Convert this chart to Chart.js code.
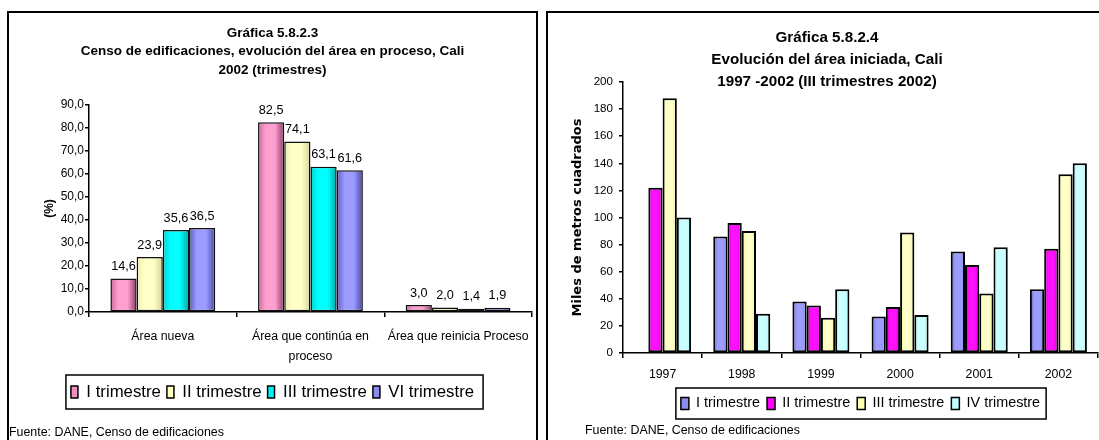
<!DOCTYPE html>
<html lang="es">
<head>
<meta charset="utf-8">
<title>Gráficas 5.8.2.3 y 5.8.2.4 - Cali</title>
<script src="https://cdn.jsdelivr.net/npm/chart.js@4.4.1/dist/chart.umd.min.js"></script>
<style>
  html, body { margin: 0; padding: 0; background: #fff; width: 1099px; height: 440px; overflow: hidden; }
  .panel { position: absolute; box-sizing: border-box; border: 2px solid #000; border-bottom: none; }
  #panelA { left: 7px; top: 11px; width: 531px; height: 440px; }
  #panelB { left: 546px; top: 11px; width: 600px; height: 440px; border-right: none; }
  canvas { position: absolute; }
  #chartA { left: 9px; top: 13px; }
  #chartB { left: 556px; top: 13px; }
  .fuente { position: absolute; font: 12.4px "Liberation Sans", Arial, sans-serif; line-height: 15px; color: #000; white-space: nowrap; }
  #fuenteA { left: 9px; top: 425px; }
  #fuenteB { left: 585px; top: 423px; }
</style>
</head>
<body>
<div class="panel" id="panelA"></div>
<div class="panel" id="panelB"></div>
<canvas id="chartA" width="530" height="427"></canvas>
<canvas id="chartB" width="543" height="427"></canvas>
<div class="fuente" id="fuenteA">Fuente: DANE, Censo de edificaciones</div>
<div class="fuente" id="fuenteB">Fuente: DANE, Censo de edificaciones</div>
<script>
// Gráfica 5.8.2.3 - área en proceso (%)
const areaCategories = ["Área nueva", ["Área que continúa en", "proceso"], "Área que reinicia Proceso"];
const areaSeries = ["I trimestre", "II trimestre", "III trimestre", "VI trimestre"];
const areaT1 = [14.6, 82.5, 3.0];
const areaT2 = [23.9, 74.1, 2.0];
const areaT3 = [35.6, 63.1, 1.4];
const areaT4 = [36.5, 61.6, 1.9];
const areaTicks = [0, 10, 20, 30, 40, 50, 60, 70, 80, 90];

// Gráfica 5.8.2.4 - área iniciada (miles de m2)
const years = ["1997", "1998", "1999", "2000", "2001", "2002"];
const iniSeries = ["I trimestre", "II trimestre", "III trimestre", "IV trimestre"];
const iniT1 = [null, 86, 38, 27, 75, 47];
const iniT2 = [122, 96, 35, 34, 65, 77];
const iniT3 = [188, 90, 26, 89, 44, 132];
const iniT4 = [100, 29, 47, 28, 78, 140];
const iniTicks = [0, 20, 40, 60, 80, 100, 120, 140, 160, 180, 200];

const FONT = '"Liberation Sans", Arial, sans-serif';
Chart.defaults.font.family = FONT;
Chart.defaults.color = "#000";
Chart.defaults.animation = false;

const fmt = (v) => Number(v).toFixed(1).replace(".", ",");

// 3D-ish shading across each bar: [left edge, middle, right edge]
const shade = (cols) => (ctx) => {
  const el = ctx.element;
  if (!el || !isFinite(el.x) || !el.width) return cols[1];
  const g = ctx.chart.ctx.createLinearGradient(el.x - el.width / 2, 0, el.x + el.width / 2, 0);
  g.addColorStop(0, cols[0]);
  g.addColorStop(0.3, cols[1]);
  g.addColorStop(0.65, cols[1]);
  g.addColorStop(1, cols[2]);
  return g;
};

const legendLabels = (chart) => {
  const items = Chart.defaults.plugins.legend.labels.generateLabels(chart);
  items.forEach((it, i) => {
    it.fillStyle = chart.data.datasets[i].legendColor;
    it.strokeStyle = "#000";
    it.lineWidth = 1.5;
  });
  return items;
};

// framed legend, as in the spreadsheet original
const legendFrame = {
  id: "legendFrame",
  afterDraw(chart, args, opts) {
    const hb = chart.legend && chart.legend.legendHitBoxes;
    if (!hb || !hb.length) return;
    const left = Math.min(...hb.map((h) => h.left)) - opts.padLeft;
    const right = Math.max(...hb.map((h) => h.left + h.width)) + opts.padRight;
    const cy = hb[0].top + hb[0].height / 2;
    const c = chart.ctx;
    c.save();
    c.strokeStyle = "#000";
    c.lineWidth = 1.5;
    c.strokeRect(left, cy - opts.height / 2, right - left, opts.height);
    c.restore();
  },
};

const valueLabels = {
  id: "valueLabels",
  afterDatasetsDraw(chart) {
    const c = chart.ctx;
    c.save();
    c.font = "12.7px " + FONT;
    c.fillStyle = "#000";
    c.textAlign = "center";
    c.textBaseline = "middle";
    chart.data.datasets.forEach((ds, i) => {
      chart.getDatasetMeta(i).data.forEach((bar, j) => {
        if (ds.data[j] === null) return;
        c.fillText(fmt(ds.data[j]), bar.x, bar.y - 12);
      });
    });
    c.restore();
  },
};

const axisLine = { color: "#000", width: 1.5 };
const legA = 16.8, padA = 6;
const legB = 14.4, padB = 7;

const chartA = new Chart(document.getElementById("chartA"), {
  type: "bar",
  data: {
    labels: areaCategories,
    datasets: [
      { label: areaSeries[0], data: areaT1, backgroundColor: shade(["#c86c9c", "#ff9fd0", "#8c3a66"]), legendColor: "#f090c0" },
      { label: areaSeries[1], data: areaT2, backgroundColor: shade(["#ececb0", "#ffffc8", "#d4d49a"]), legendColor: "#ffffc0" },
      { label: areaSeries[2], data: areaT3, backgroundColor: shade(["#00d4d4", "#00ffff", "#00a6a6"]), legendColor: "#00f0f0" },
      { label: areaSeries[3], data: areaT4, backgroundColor: shade(["#5c5cc0", "#9c9cff", "#4848a0"]), legendColor: "#8c8cf0" },
    ],
  },
  options: {
    responsive: false,
    layout: { padding: { left: 0, right: 3, top: 0, bottom: 38 - legA / 2 } },
    datasets: { bar: { categoryPercentage: 0.71, barPercentage: 1, borderColor: "#111", borderWidth: 1.5, borderSkipped: false } },
    plugins: {
      title: {
        display: true,
        text: ["Gráfica 5.8.2.3", "Censo de edificaciones, evolución del área en proceso, Cali", "2002 (trimestres)"],
        font: { size: 13.5, weight: "bold", lineHeight: "18.5px" },
        padding: { top: 10.75, bottom: 25.75 },
      },
      legend: {
        position: "bottom",
        labels: { boxWidth: 7, boxHeight: 12, padding: padA, font: { size: legA }, generateLabels: legendLabels },
      },
      tooltip: { enabled: false },
      legendFrame: { padLeft: 5, padRight: 9, height: 34 },
    },
    scales: {
      x: {
        grid: { drawOnChartArea: false, offset: true, tickLength: 5, color: "#000", lineWidth: 1.5 },
        border: axisLine,
        ticks: { font: { size: 12.3, lineHeight: "20px" }, padding: 10, maxRotation: 0, minRotation: 0, autoSkip: false },
        afterFit(s) { s.height = 80 - padA - legA / 2; },
      },
      y: {
        min: areaTicks[0],
        max: areaTicks[areaTicks.length - 1],
        grid: { drawOnChartArea: false, tickLength: 4, color: "#000", lineWidth: 1.5 },
        border: axisLine,
        ticks: { stepSize: areaTicks[1] - areaTicks[0], callback: fmt, font: { size: 12 }, padding: 1 },
        title: { display: true, text: "(%)", font: { size: 12, weight: "bold", lineHeight: "14.4px" }, padding: { top: 33.8, bottom: 0 } },
        afterFit(s) { s.width = 80; },
      },
    },
  },
  plugins: [legendFrame, valueLabels],
});

const chartB = new Chart(document.getElementById("chartB"), {
  type: "bar",
  data: {
    labels: years,
    datasets: [
      { label: iniSeries[0], data: iniT1, backgroundColor: shade(["#5e5ebe", "#9c9cff", "#9090f0"]), legendColor: "#8c8cf0" },
      { label: iniSeries[1], data: iniT2, backgroundColor: shade(["#cc00cc", "#ff10ff", "#e000e0"]), legendColor: "#ff00ff" },
      { label: iniSeries[2], data: iniT3, backgroundColor: shade(["#f0f090", "#ffffc8", "#f0f0a4"]), legendColor: "#ffffb0" },
      { label: iniSeries[3], data: iniT4, backgroundColor: shade(["#a0f4f4", "#ccffff", "#a8f8f8"]), legendColor: "#c0ffff" },
    ],
  },
  options: {
    responsive: false,
    layout: { padding: { left: 0, right: 1, top: 0, bottom: 26.5 - legB / 2 } },
    datasets: { bar: { categoryPercentage: 0.72, barPercentage: 1, borderColor: "#000", borderWidth: 2, borderSkipped: false } },
    plugins: {
      title: {
        display: true,
        text: ["Gráfica 5.8.2.4", "Evolución del área iniciada, Cali", "1997 -2002 (III trimestres 2002)"],
        font: { size: 15.2, weight: "bold", lineHeight: "22px" },
        padding: { top: 14, bottom: -11 },
      },
      legend: {
        position: "bottom",
        fullSize: false,
        labels: { boxWidth: 8, boxHeight: 12, padding: padB, font: { size: legB }, generateLabels: legendLabels },
      },
      tooltip: { enabled: false },
      legendFrame: { padLeft: 5, padRight: 6, height: 31 },
    },
    scales: {
      x: {
        grid: { drawOnChartArea: false, offset: true, tickLength: 5, color: "#000", lineWidth: 1.5 },
        border: axisLine,
        ticks: { font: { size: 12.3, lineHeight: "14.4px" }, padding: 9.8, maxRotation: 0, minRotation: 0, autoSkip: false },
        afterFit(s) { s.height = 50.5 - padB - legB / 2; },
      },
      y: {
        min: iniTicks[0],
        max: iniTicks[iniTicks.length - 1],
        grid: { drawOnChartArea: false, tickLength: 4, color: "#000", lineWidth: 1.5 },
        border: axisLine,
        ticks: { stepSize: iniTicks[1] - iniTicks[0], font: { size: 11.6 }, padding: 6 },
        title: {
          display: true,
          text: "Miles de metros cuadrados",
          font: { family: '"DejaVu Sans", ' + FONT, size: 13, weight: "bold", lineHeight: "15.6px" },
          padding: { top: 14.2, bottom: 0 },
        },
        afterFit(s) { s.width = 67; },
      },
    },
  },
  plugins: [legendFrame],
});

// second pass so the bar shading can use the laid-out bar positions
chartA.update();
chartB.update();
</script>
</body>
</html>
